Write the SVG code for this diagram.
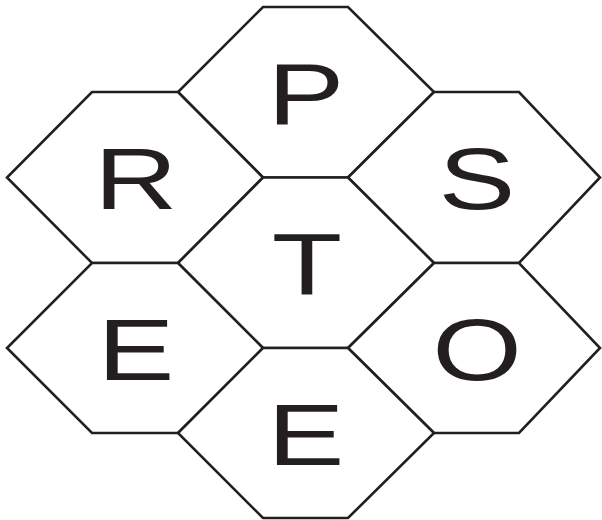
<svg xmlns="http://www.w3.org/2000/svg" width="602" height="520" viewBox="0 0 602 520">
<style>
.hex{fill:#ffffff;stroke:#231f20;stroke-width:2.6;stroke-linejoin:miter}
.lbl{font-family:"Liberation Sans",Arial,sans-serif;font-size:88px;fill:#231f20;text-anchor:middle}
</style>
<rect width="602" height="520" fill="#ffffff"/>
<g id="connectors"></g>
<g id="node-P"><polygon class="hex" points="263,7 348,7 434,92 348,177.5 263,177.5 178,92"/><text class="lbl" transform="translate(306,123.5) scale(1.31,1)">P</text></g>
<g id="node-R"><polygon class="hex" points="92,92 178,92 263,177.5 178,263 92,263 7,177.5"/><text class="lbl" transform="translate(136,209) scale(1.31,1)">R</text></g>
<g id="node-S"><polygon class="hex" points="434,92 519,92 600,177.5 519,263 434,263 348,177.5"/><text class="lbl" transform="translate(477,209) scale(1.31,1)">S</text></g>
<g id="node-T"><polygon class="hex" points="263,177.5 348,177.5 434,263 348,348 263,348 178,263"/><text class="lbl" transform="translate(307,294) scale(1.31,1)">T</text></g>
<g id="node-E1"><polygon class="hex" points="92,263 178,263 263,348 178,433 92,433 7,348"/><text class="lbl" transform="translate(136,380) scale(1.31,1)">E</text></g>
<g id="node-O"><polygon class="hex" points="434,263 519,263 600,348 519,433 434,433 348,348"/><text class="lbl" transform="translate(477,380) scale(1.31,1)">O</text></g>
<g id="node-E2"><polygon class="hex" points="263,348 348,348 434,433 348,518 263,518 178,433"/><text class="lbl" transform="translate(306,465) scale(1.31,1)">E</text></g>
</svg>
